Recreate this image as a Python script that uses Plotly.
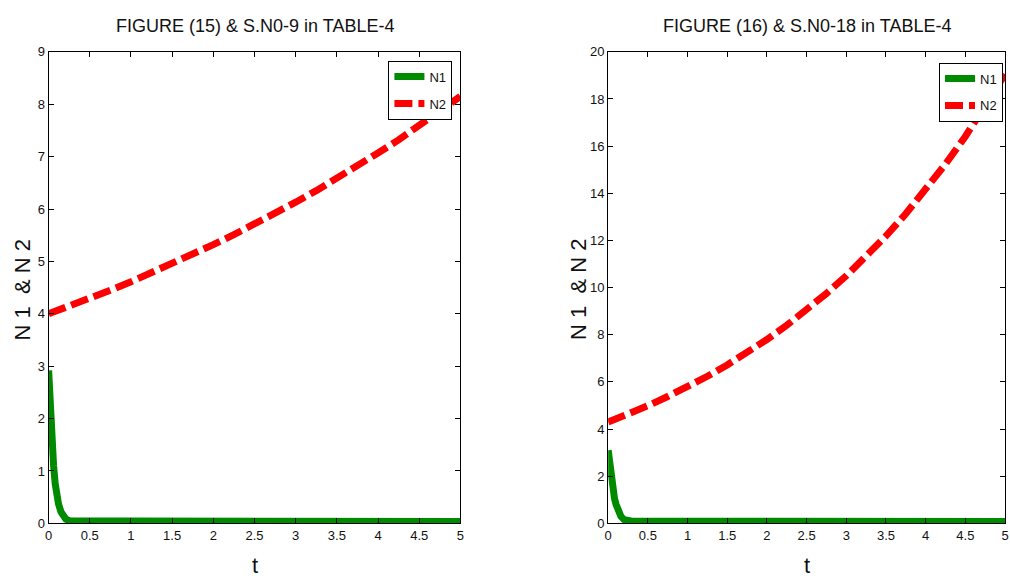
import plotly.graph_objects as go

# ---- Figure (15): S.N0-9 ----
t_n1_a = [0, 0.01, 0.02, 0.03, 0.045, 0.06, 0.08, 0.10, 0.12, 0.15, 0.18, 0.21,
          0.25, 0.30, 0.5, 1.0, 1.5, 1.8, 1.85, 2.5, 3.0, 3.5, 4.0, 4.5, 5.0]
n1_a = [2.92, 2.55, 2.20, 1.90, 1.45, 1.10, 0.75, 0.52, 0.37, 0.22, 0.13, 0.08,
        0.05, 0.045, 0.045, 0.045, 0.045, 0.045, 0.035, 0.035, 0.035, 0.035, 0.035, 0.035, 0.035]

t_n2 = [0, 0.25, 0.5, 0.75, 1.0, 1.25, 1.5, 1.75, 2.0, 2.25, 2.5,
        2.75, 3.0, 3.25, 3.5, 3.75, 4.0, 4.25, 4.5, 4.75, 5.0]
n2_a = [4.00, 4.14, 4.30, 4.45, 4.61, 4.78, 4.95, 5.13, 5.32, 5.51, 5.71,
        5.91, 6.13, 6.35, 6.58, 6.82, 7.07, 7.32, 7.59, 7.86, 8.15]

# ---- Figure (16): S.N0-18 ----
t_n1_b = [0, 0.01, 0.02, 0.03, 0.045, 0.06, 0.08, 0.10, 0.13, 0.16, 0.20, 0.25,
          0.30, 0.5, 1.0, 1.4, 1.45, 2.0, 2.5, 3.0, 3.5, 4.0, 4.5, 5.0]
n1_b = [3.10, 2.75, 2.40, 2.10, 1.70, 1.40, 1.05, 0.80, 0.50, 0.30, 0.16, 0.10,
        0.09, 0.09, 0.09, 0.09, 0.08, 0.08, 0.08, 0.08, 0.08, 0.08, 0.08, 0.08]
n2_b = [4.30, 4.63, 4.99, 5.38, 5.79, 6.24, 6.72, 7.24, 7.80, 8.40, 9.05,
        9.75, 10.50, 11.31, 12.19, 13.13, 14.14, 15.24, 16.41, 17.68, 19.05]

titles = ["FIGURE (15) & S.N0-9 in TABLE-4", "FIGURE (16) & S.N0-18 in TABLE-4"]
x_ticks = [0, 0.5, 1, 1.5, 2, 2.5, 3, 3.5, 4, 4.5, 5]
x_tick_text = ["0", "0.5", "1", "1.5", "2", "2.5", "3", "3.5", "4", "4.5", "5"]
y_ticks_a = list(range(0, 10))
y_ticks_b = list(range(0, 21, 2))

FONT = "Liberation Sans, Arial, sans-serif"
GREEN = "#008a00"
RED = "#ff0000"
W, H = 1010, 584

# pixel geometry of the two axes boxes
left_box = (45, 460)
right_box = (609, 1009)
top_px, bottom_px = 46, 530

fig = go.Figure()

fig.add_trace(go.Scatter(x=t_n1_a, y=n1_a, mode="lines", name="N1", legendgroup="a1",
                         line=dict(color=GREEN, width=7), xaxis="x", yaxis="y",
                         legend="legend"))
fig.add_trace(go.Scatter(x=t_n2, y=n2_a, mode="lines", name="N2", legendgroup="a2",
                         line=dict(color=RED, width=7, dash="18px,6px"),
                         xaxis="x", yaxis="y", legend="legend"))
fig.add_trace(go.Scatter(x=t_n1_b, y=n1_b, mode="lines", name="N1", legendgroup="b1",
                         line=dict(color=GREEN, width=7), xaxis="x2", yaxis="y2",
                         legend="legend2"))
fig.add_trace(go.Scatter(x=t_n2, y=n2_b, mode="lines", name="N2", legendgroup="b2",
                         line=dict(color=RED, width=7, dash="18px,6px"),
                         xaxis="x2", yaxis="y2", legend="legend2"))

ydom = [1 - bottom_px / H, 1 - top_px / H]

common_axis = dict(showline=True, linecolor="black", linewidth=1, mirror="allticks",
                   ticks="inside", ticklen=5, tickcolor="black", showgrid=False,
                   zeroline=False, tickfont=dict(family=FONT, size=13, color="#111"))

legend_style = dict(xanchor="right", yanchor="top", bordercolor="black",
                    borderwidth=1, bgcolor="white",
                    font=dict(family=FONT, size=13, color="#111"),
                    tracegroupgap=7, itemwidth=30)

fig.update_layout(
    width=W, height=H,
    margin=dict(l=0, r=0, t=0, b=0),
    paper_bgcolor="white", plot_bgcolor="white",
    font=dict(family=FONT, color="#111"),
    xaxis=dict(domain=[left_box[0] / W, left_box[1] / W], range=[0, 5],
               tickvals=x_ticks, ticktext=x_tick_text, anchor="y", **common_axis),
    yaxis=dict(domain=ydom, range=[0, 9], tickvals=y_ticks_a, anchor="x",
               **common_axis),
    xaxis2=dict(domain=[right_box[0] / W, right_box[1] / W], range=[0, 5],
                tickvals=x_ticks, ticktext=x_tick_text, anchor="y2", **common_axis),
    yaxis2=dict(domain=ydom, range=[0, 20], tickvals=y_ticks_b, anchor="x2",
                **common_axis),
    legend=dict(x=452 / W, y=1 - 55 / H, **legend_style),
    legend2=dict(x=1007 / W, y=1 - 57 / H, **legend_style),
    showlegend=True,
)

annotations = []
for title, (x0, x1) in zip(titles, [left_box, right_box]):
    annotations.append(dict(text=title, xref="paper", yref="paper",
                            x=(x0 + x1) / 2 / W, y=1 - 20 / H, showarrow=False,
                            xanchor="center", yanchor="middle",
                            font=dict(family=FONT, size=18, color="#111")))
    annotations.append(dict(text="t", xref="paper", yref="paper",
                            x=(x0 + x1) / 2 / W, y=1 - 573 / H, showarrow=False,
                            xanchor="center", yanchor="middle",
                            font=dict(family=FONT, size=22, color="#111")))
for xc in (19, 579):
    annotations.append(dict(text="N 1  &amp; N 2", xref="paper", yref="paper",
                            x=xc / W, y=1 - 290 / H, showarrow=False,
                            textangle=-90, xanchor="center", yanchor="middle",
                            font=dict(family=FONT, size=22, color="#111")))
fig.update_layout(annotations=annotations)

fig.write_html("out.html")
